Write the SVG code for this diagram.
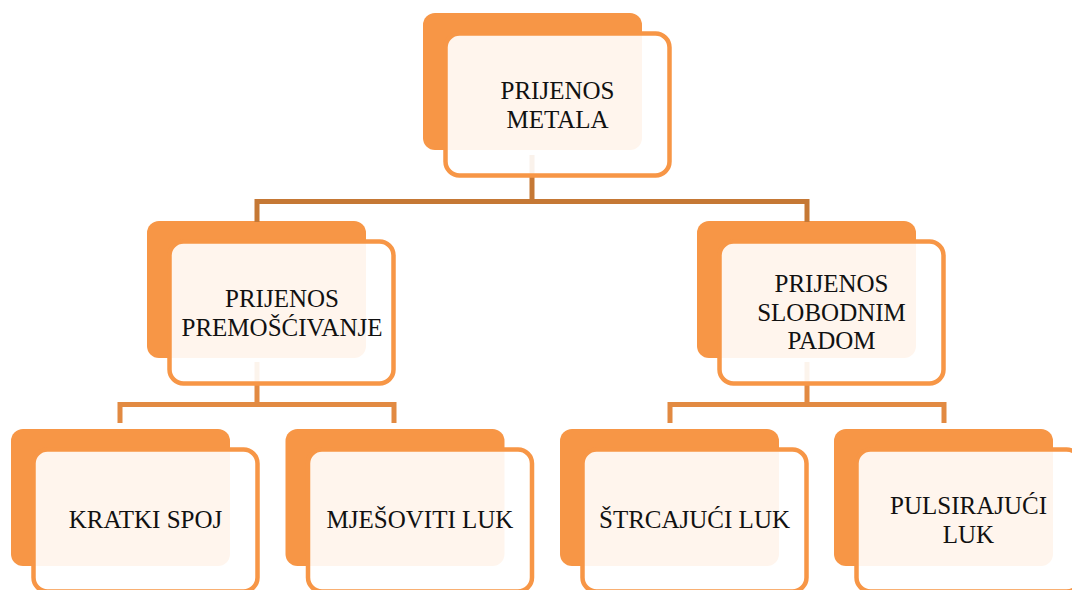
<svg xmlns="http://www.w3.org/2000/svg" width="1072" height="590" viewBox="0 0 1072 590">
<style>
.back{fill:#F79646}
.front{fill:#FFFFFF;fill-opacity:0.9;stroke:#F79646;stroke-width:4.5}
.lbl{font-family:"Liberation Serif","Times New Roman",serif;font-size:25px;fill:#111;text-anchor:middle}
.c1{fill:none;stroke:#C57835;stroke-width:5}
.c2{fill:none;stroke:#E28A42;stroke-width:5}
</style>
<rect width="1072" height="590" fill="#FFFFFF"/>
<g id="backs">
<rect class="back" x="423" y="13" width="219" height="137" rx="12"/>
<rect class="back" x="147" y="221" width="219" height="137" rx="12"/>
<rect class="back" x="697" y="221" width="219" height="137" rx="12"/>
<rect class="back" x="11" y="429" width="219" height="137" rx="12"/>
<rect class="back" x="285.5" y="429" width="219" height="137" rx="12"/>
<rect class="back" x="560" y="429" width="219" height="137" rx="12"/>
<rect class="back" x="834" y="429" width="219" height="137" rx="12"/>
</g>
<g id="connectors">
<path class="c1" d="M257,222 V201.5 H807 V222 M532,201.5 V155"/>
<path class="c2" d="M120,423 V404.5 H394 V423 M257,404.5 V362"/>
<path class="c2" d="M670,423 V404.5 H944 V423 M807,404.5 V362"/>
</g>
<g id="node-prijenos-metala">
<rect class="front" x="445.5" y="33.5" width="224" height="142" rx="14"/>
<text class="lbl" x="557.5" y="99">PRIJENOS</text>
<text class="lbl" x="557.5" y="127.7">METALA</text>
</g>
<g id="node-premoscivanje">
<rect class="front" x="169.5" y="241.5" width="224" height="142" rx="14"/>
<text class="lbl" x="282" y="306.7">PRIJENOS</text>
<text class="lbl" x="282" y="336">PREMOŠĆIVANJE</text>
</g>
<g id="node-slobodnim-padom">
<rect class="front" x="719.5" y="241.5" width="224" height="142" rx="14"/>
<text class="lbl" x="831.5" y="292.3">PRIJENOS</text>
<text class="lbl" x="831.5" y="321">SLOBODNIM</text>
<text class="lbl" x="831.5" y="349.3">PADOM</text>
</g>
<g id="node-kratki-spoj">
<rect class="front" x="33.5" y="449.5" width="224" height="142" rx="14"/>
<text class="lbl" x="145.5" y="528.3">KRATKI SPOJ</text>
</g>
<g id="node-mjesoviti-luk">
<rect class="front" x="308" y="449.5" width="224" height="142" rx="14"/>
<text class="lbl" x="420" y="528.3">MJEŠOVITI LUK</text>
</g>
<g id="node-strcajuci-luk">
<rect class="front" x="582.5" y="449.5" width="224" height="142" rx="14"/>
<text class="lbl" x="694.5" y="528.3">ŠTRCAJUĆI LUK</text>
</g>
<g id="node-pulsirajuci-luk">
<rect class="front" x="856.5" y="449.5" width="224" height="142" rx="14"/>
<text class="lbl" x="968.5" y="514.3">PULSIRAJUĆI</text>
<text class="lbl" x="968.5" y="543.3">LUK</text>
</g>
</svg>
